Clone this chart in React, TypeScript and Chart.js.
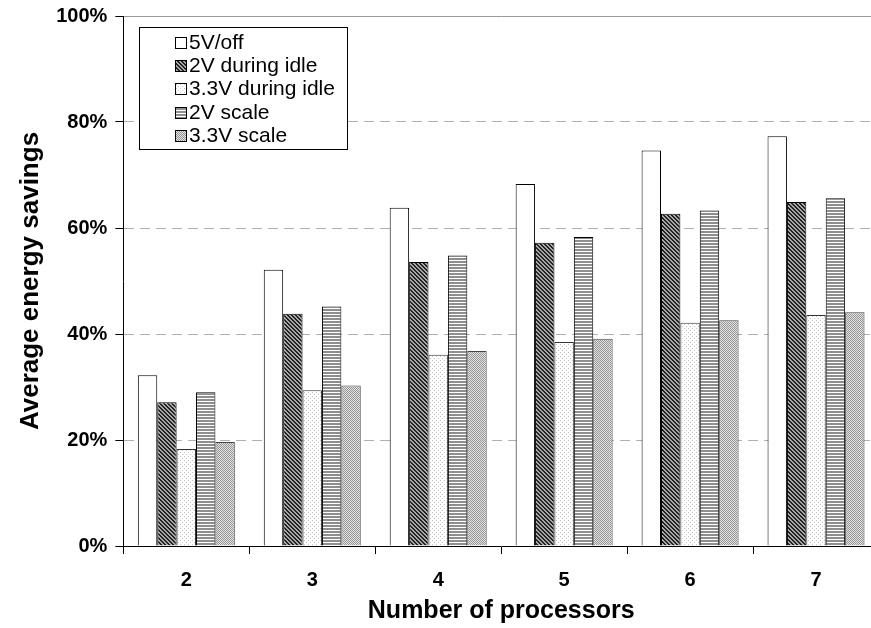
import React, { useEffect, useRef } from "react";
import { Chart, registerables } from "chart.js";

Chart.register(...registerables);

const categories = ["2", "3", "4", "5", "6", "7"];
const seriesNames = ["5V/off", "2V during idle", "3.3V during idle", "2V scale", "3.3V scale"];
const offValues = [32.2, 52.1, 63.8, 68.3, 74.6, 77.3];
const idle2Values = [27.1, 43.8, 53.6, 57.2, 62.7, 64.9];
const idle33Values = [18.3, 29.4, 36.1, 38.5, 42.1, 43.6];
const scale2Values = [29.0, 45.2, 54.8, 58.3, 63.3, 65.6];
const scale33Values = [19.6, 30.3, 36.8, 39.1, 42.6, 44.1];
const yTickValues = [0, 20, 40, 60, 80, 100];

const FONT = '"Liberation Sans", Arial, sans-serif';

export default function App() {
  const ref = useRef<HTMLCanvasElement>(null);

  useEffect(() => {
    const canvas = ref.current!;
    const ctx = canvas.getContext("2d")!;
    const pat = (w: number, h: number, fn: (g: CanvasRenderingContext2D) => void) => {
      const c = document.createElement("canvas");
      c.width = w;
      c.height = h;
      const g = c.getContext("2d")!;
      fn(g);
      return ctx.createPattern(c, "repeat")!;
    };
    const px = (g: CanvasRenderingContext2D, x: number, y: number, col: string) => {
      g.fillStyle = col;
      g.fillRect(x, y, 1, 1);
    };

    const whiteFill = "#ffffff";
    const hatchFill = pat(4, 4, (g) => {
      g.fillStyle = "#a8a8a8";
      g.fillRect(0, 0, 4, 4);
      for (let y = 0; y < 4; y++)
        for (let x = 0; x < 4; x++) if ((x - y + 8) % 4 < 2) px(g, x, y, "#222222");
    });
    const lightDotFill = pat(4, 4, (g) => {
      g.fillStyle = "#ffffff";
      g.fillRect(0, 0, 4, 4);
      px(g, 0, 0, "#c4c4c4");
      px(g, 2, 2, "#c4c4c4");
    });
    const stripeFill = pat(4, 3, (g) => {
      g.fillStyle = "#ffffff";
      g.fillRect(0, 0, 4, 3);
      g.fillStyle = "#8e8e8e";
      g.fillRect(0, 0, 4, 2);
    });
    const dotFill = pat(2, 2, (g) => {
      g.fillStyle = "#e2e2e2";
      g.fillRect(0, 0, 2, 2);
      px(g, 0, 0, "#969696");
      px(g, 1, 1, "#969696");
    });

    const fills = [whiteFill, hatchFill, lightDotFill, stripeFill, dotFill];
    const values = [offValues, idle2Values, idle33Values, scale2Values, scale33Values];
    const borders = ["#000000", "#000000", "#333333", "#000000", "#444444"];

    const legendPlugin = {
      id: "boxLegend",
      afterDraw(chart: any) {
        const c = chart.ctx as CanvasRenderingContext2D;
        const area = chart.chartArea;
        const x0 = Math.round(area.left) + 16;
        const y0 = Math.round(area.top) + 11;
        const w = 208;
        const h = 122;
        c.save();
        c.fillStyle = "#fff";
        c.fillRect(x0, y0, w, h);
        c.strokeStyle = "#000";
        c.lineWidth = 1;
        c.strokeRect(x0 + 0.5, y0 + 0.5, w, h);
        chart.data.datasets.forEach((ds: any, i: number) => {
          const cy = Math.round(y0 + 15 + i * 23.2);
          c.fillStyle = ds.backgroundColor;
          c.fillRect(x0 + 36, cy - 5, 11, 11);
          c.strokeStyle = "#000";
          c.strokeRect(x0 + 36.5, cy - 4.5, 11, 11);
          c.fillStyle = "#000";
          c.font = `21px ${FONT}`;
          c.textBaseline = "middle";
          c.textAlign = "left";
          c.fillText(ds.label, x0 + 50, cy + 1);
        });
        c.restore();
      },
    };

    const chart = new Chart(canvas, {
      type: "bar",
      data: {
        labels: categories,
        datasets: seriesNames.map((name, i) => ({
          label: name,
          data: values[i],
          backgroundColor: fills[i] as any,
          borderColor: borders[i],
          borderWidth: 1,
          categoryPercentage: 0.77,
          barPercentage: 1.0,
        })),
      },
      options: {
        responsive: false,
        animation: false,
        layout: { padding: { top: 8, right: 11, bottom: 2, left: 12 } },
        plugins: {
          legend: { display: false },
          tooltip: { enabled: false },
        },
        scales: {
          x: {
            offset: true,
            grid: {
              display: true,
              drawOnChartArea: false,
              drawTicks: true,
              tickLength: 8,
              tickColor: "#000",
              offset: true,
            },
            border: { display: true, color: "#000", width: 1 },
            ticks: {
              color: "#000",
              padding: 14,
              font: { family: FONT, size: 20, weight: "bold" },
            },
            title: {
              display: true,
              text: "Number of processors",
              color: "#000",
              padding: { top: -7, bottom: 2 },
              font: { family: FONT, size: 25, weight: "bold", lineHeight: 1.0 },
            },
          },
          y: {
            min: 0,
            max: 100,
            afterBuildTicks: (axis: any) => {
              axis.ticks = yTickValues.map((v) => ({ value: v }));
            },
            grid: {
              color: (c: any) =>
                c.tick && c.tick.value === 0 ? "rgba(0,0,0,0)" : c.tick && c.tick.value === 100 ? "#999999" : "#b0b0b0",
              lineWidth: 1,
              tickColor: "#000",
              tickLength: 8,
            },
            border: {
              display: true,
              color: "#000",
              width: 1,
              dash: (c: any) => (c.tick && c.tick.value === 100 ? [] : [10, 6]),
            } as any,
            ticks: {
              color: "#000",
              padding: 8,
              font: { family: FONT, size: 20, weight: "bold", lineHeight: 0.8 },
              callback: (v: any) => `${v}%`,
            },
            title: {
              display: true,
              text: "Average energy savings",
              color: "#000",
              padding: { top: 3, bottom: 2 },
              font: { family: FONT, size: 26, weight: "bold" },
            },
          },
        },
      },
      plugins: [legendPlugin],
    });
    return () => chart.destroy();
  }, []);

  return (
    <div
      style={{
        position: "fixed",
        left: 0,
        top: 0,
        width: 871,
        height: 628,
        overflow: "hidden",
        background: "#fff",
      }}
    >
      <canvas ref={ref} width={890} height={628} style={{ display: "block" }} />
    </div>
  );
}
